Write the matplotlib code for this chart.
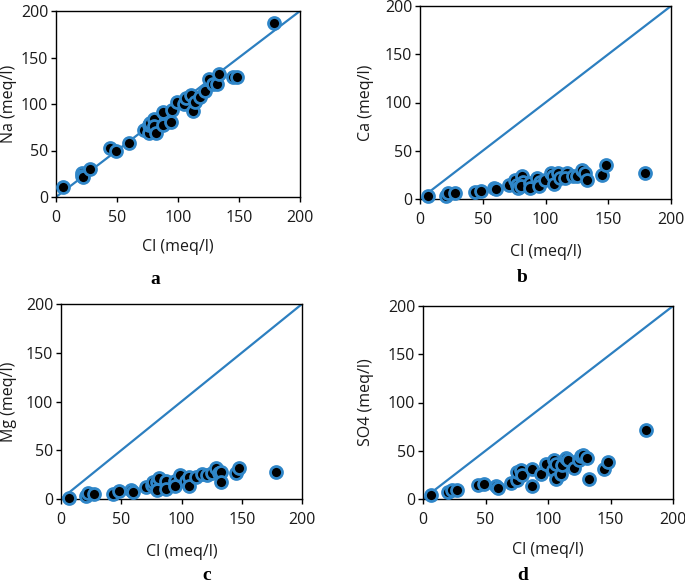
import matplotlib
matplotlib.use("Agg")
import matplotlib.pyplot as plt

# ---------------- data ----------------
cl_a = [6, 21, 21, 22, 27.6, 44.5, 49.5, 60, 72, 76.5, 76.5, 77, 80.6, 80.6, 82,
        87.7, 88, 94, 95, 99, 104.6, 106.5, 112, 111, 113.6, 117.8, 122, 125,
        129, 132, 133.6, 145, 148, 179]
na = [11, 26, 23, 21, 30, 52.7, 49, 58, 72, 69, 77, 80, 84, 76, 69,
      77, 91, 80.6, 94, 102, 100, 106, 92, 110, 102, 107.5, 114, 126.5,
      122, 121, 132, 129, 129, 187]

cl_b = [6.6, 21, 22.6, 28, 44, 49, 59, 60.5, 71, 75.7, 77, 78, 81, 82, 80.5,
        87.6, 87.6, 93.5, 95.6, 95, 99.6, 104, 106, 106.8, 110, 111.5, 117,
        115.5, 122, 125, 129, 131.5, 133, 145, 148, 179]
ca = [2.7, 3.4, 6, 6, 7, 8.6, 11, 10, 15, 20, 15, 11, 24, 18, 13,
      16.5, 11.4, 22, 18, 13, 20, 27, 23.4, 15.5, 27, 22, 27,
      22, 23.4, 23.4, 30, 27, 20, 24.5, 35, 27]

cl_c = [6.6, 20.8, 22, 27.7, 43.5, 48.5, 58, 60, 70.6, 75.3, 76, 79.5, 81, 80,
        87, 87, 95, 95, 99, 104, 106, 106.5, 112, 117, 121, 125.5, 129, 131,
        133, 133, 145, 148, 178.7]
mg = [1, 2.7, 6, 5.5, 5.5, 8, 9.5, 7, 12, 14.7, 17, 17.4, 21.5, 9.5,
      18, 10, 18, 13.6, 25, 18, 23, 13, 22.5, 26, 25, 27, 32, 26.6,
      28, 17, 27, 32, 28]

cl_d = [6, 20, 23.5, 27, 44, 48.5, 58, 60, 70.6, 75.5, 75.5, 78.6, 79.5, 87, 87,
        94.6, 98.7, 104, 105, 106, 106.7, 110.6, 111.5, 114.7, 116, 121, 125,
        126, 128, 131, 132.5, 144.5, 148, 178.7]
so4 = [4, 7.6, 9, 9, 15, 16, 13, 11.8, 16.6, 20, 28, 30, 24.5, 13.5, 31.5,
       25.6, 36.7, 30, 40, 21, 36.7, 26, 35, 42, 40, 32, 40,
       45, 46, 42, 20.7, 30.8, 38.4, 71]

panels = [
    (cl_a, na, "Na (meq/l)", "a"),
    (cl_b, ca, "Ca (meq/l)", "b"),
    (cl_c, mg, "Mg (meq/l)", "c"),
    (cl_d, so4, "SO4 (meq/l)", "d"),
]
ticks = [0, 50, 100, 150, 200]

# ---------------- layout ----------------
W, H = 685, 586
fig = plt.figure(figsize=(W / 100, H / 100), dpi=100)

def rect(l, r, t, b):
    return [l / W, 1 - b / H, (r - l) / W, (b - t) / H]

boxes = [rect(56, 300, 11, 197), rect(420, 671, 6, 199),
         rect(61, 302, 304, 499), rect(423, 673, 306, 499)]
xlab_y = [247, 252, 552, 550]
ylab_x = [9, 366, 9, 366]
letter_pos = [(155, 279), (522, 277), (207, 575), (523, 575)]

blue = "#2C7FC0"
font = "Open Sans"
fs = 11.5

for (x, y, ylab, letter), box, xly, ylx, (lx, ly) in zip(
        panels, boxes, xlab_y, ylab_x, letter_pos):
    ax = fig.add_axes(box)
    ax.plot(ticks[::len(ticks) - 1], ticks[::len(ticks) - 1], color=blue,
            lw=1.6, zorder=2)
    ax.plot(x, y, linestyle="none", marker="o", markersize=8.6,
            markerfacecolor="black", markeredgecolor="#2F86C8",
            markeredgewidth=2.0, zorder=3, clip_on=False)
    ax.set_xlim(0, 200)
    ax.set_ylim(0, 200)
    ax.set_xticks(ticks)
    ax.set_yticks(ticks)
    for sp in ax.spines.values():
        sp.set_linewidth(1.0)
        sp.set_color("black")
    ax.tick_params(axis="x", direction="out", length=3.5, width=1,
                   pad=6, labelsize=fs)
    ax.tick_params(axis="y", direction="out", length=3.5, width=1,
                   pad=2, labelsize=fs)
    for lab in ax.get_xticklabels() + ax.get_yticklabels():
        lab.set_fontfamily(font)
        lab.set_color("#1a1a1a")
    fig.text((box[0] + box[2] / 2), 1 - xly / H, "Cl (meq/l)",
             ha="center", va="center", fontsize=fs, family=font,
             color="#1a1a1a")
    fig.text(ylx / W, box[1] + box[3] / 2, ylab, rotation=90,
             ha="center", va="center", fontsize=fs, family=font,
             color="#1a1a1a")
    fig.text(lx / W, 1 - ly / H, letter, ha="center", va="center",
             fontsize=14, fontweight="bold", family="Liberation Serif")

fig.savefig("out.png", dpi=100)
